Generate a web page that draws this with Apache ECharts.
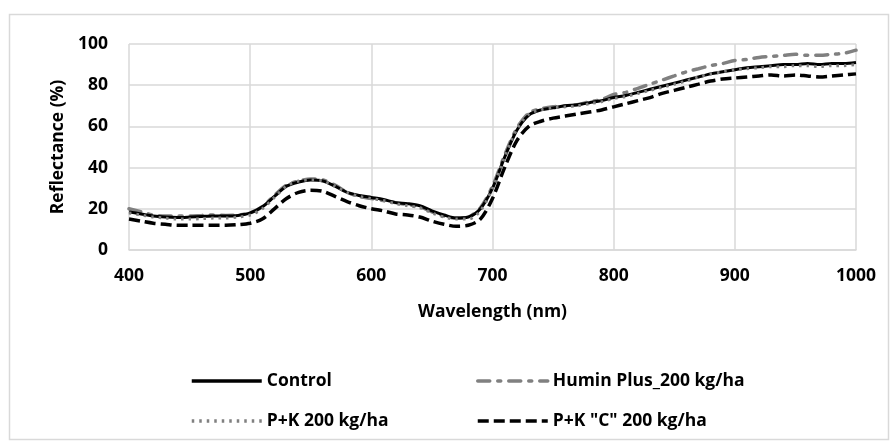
<!DOCTYPE html>
<html>
<head>
<meta charset="utf-8">
<script src="https://cdn.jsdelivr.net/npm/echarts@6/dist/echarts.min.js"></script>
<style>
html,body{margin:0;padding:0;background:#fff;}
#chart{width:893px;height:445px;}
</style>
</head>
<body>
<div id="chart"></div>
<script>
// Wavelength (nm)
const wavelengths = [400,410,420,430,440,450,460,470,480,490,
  500,510,520,530,540,550,560,570,580,590,
  600,610,620,630,640,650,660,670,680,690,
  700,710,720,730,740,750,760,770,780,790,
  800,810,820,830,840,850,860,870,880,890,
  900,910,920,930,940,950,960,970,980,990,1000];

const control = [18.5,17.5,16.5,16,15.8,16,16.3,16.5,16.5,16.8,
  18,21,26,31,33,34,33.5,31,28,26.5,
  25.5,24.5,23,22.5,21.5,19,17,15.5,16,20,
  30,45,58,65.5,68,69,70,70.5,71.5,72.5,
  74,75,76.5,78,79.5,81,82.5,84,85.5,86.5,
  87.5,88.5,89,89.5,90,90,90.5,90,90.5,90.5,91];

const huminPlus = [20,18.5,17,16.5,16.5,16.5,16.8,17,16.8,17,
  18,21,26.5,31.5,33.5,34.5,34,31.5,28,26,
  25,24,23,22,21,18.5,16.5,15.5,16,20.5,
  31,46,59,66.5,68.5,69.5,70,70.5,72,73,
  75.5,76.5,78.5,80.5,82.5,84.5,86.5,88,89.5,90.5,
  92,92.5,93.5,94,94.5,95,94.5,94.5,95,95.5,97];

const pk = [18,17,16,15.5,15,15,15.2,15.5,15.5,16,
  17,20,25.5,31,33.5,34,33.5,31,28,26,
  25,24,22.5,21.5,20.5,18,16,15,15,19,
  30,45,58.5,66,68,69,69.5,70,71,72,
  73.5,74.5,76,77.5,79,80.5,82,84,85.5,86.5,
  87.5,88,88.5,89,89,89.5,89.5,89,89.5,89.5,90];

const pkC = [15,14,13,12.5,12,12,12,12,12,12.3,
  13,15,20,25,28,29,28.5,26,23.5,21.5,
  20,19,17.5,17,16,14,12.5,11.5,12,15,
  25,40,53,60,62.5,64,65,66,67,68,
  69.5,71,72.5,74,76,77.5,79,80.5,82,83,
  83.5,84,84.5,85,84.5,85,84.5,84,84.5,85,85.5];

const seriesNames = ['Control', 'Humin Plus_200 kg/ha', 'P+K 200 kg/ha', 'P+K "C" 200 kg/ha'];
const xTicks = [400, 500, 600, 700, 800, 900, 1000];
const yTicks = [0, 20, 40, 60, 80, 100];

function pairs(vals){ return wavelengths.map((w,i)=>[w, vals[i]]); }

const FONT = '"Open Sans", "DejaVu Sans", sans-serif';
const txt = {fontFamily: FONT, fontWeight: 'bold', fontSize: 17.5, color: '#000'};

const chart = echarts.init(document.getElementById('chart'), null, {renderer: 'canvas'});
chart.setOption({
  animation: false,
  backgroundColor: '#fff',
  graphic: [{
    type: 'rect', silent: true, z: -1,
    shape: {x: 9.5, y: 14.5, width: 879, height: 425},
    style: {fill: 'none', stroke: '#d9d9d9', lineWidth: 1.5}
  }],
  grid: {left: 129, right: 37, top: 44, bottom: 195, containLabel: false},
  xAxis: {
    type: 'value', min: xTicks[0], max: xTicks[xTicks.length-1], interval: 100,
    name: 'Wavelength (nm)', nameLocation: 'middle', nameGap: 53,
    nameTextStyle: Object.assign({}, txt),
    axisLine: {show: true, lineStyle: {color: '#d9d9d9', width: 1.5}},
    axisTick: {show: false},
    axisLabel: Object.assign({margin: 17, formatter: v => String(v)}, txt),
    splitLine: {show: true, lineStyle: {color: '#d9d9d9', width: 1.5}}
  },
  yAxis: {
    type: 'value', min: yTicks[0], max: yTicks[yTicks.length-1], interval: 20,
    name: 'Reflectance (%)', nameLocation: 'middle', nameGap: 51,
    nameTextStyle: Object.assign({}, txt),
    axisLine: {show: false},
    axisTick: {show: false},
    axisLabel: Object.assign({margin: 21, formatter: v => String(v)}, txt),
    splitLine: {show: true, lineStyle: {color: '#d9d9d9', width: 1.5}}
  },
  legend: [{
    data: [seriesNames[0], seriesNames[2]],
    orient: 'vertical', left: 185, top: 367,
    itemWidth: 70, itemHeight: 14, itemGap: 22,
    itemStyle: {opacity: 0},
    lineStyle: {width: 3.5},
    textStyle: Object.assign({}, txt)
  },{
    data: [seriesNames[1], seriesNames[3]],
    orient: 'vertical', left: 471, top: 367,
    itemWidth: 70, itemHeight: 14, itemGap: 22,
    itemStyle: {opacity: 0},
    lineStyle: {width: 3.5},
    textStyle: Object.assign({}, txt)
  }],
  series: [
    {name: seriesNames[0], type: 'line', data: pairs(control), symbol: 'none', smooth: 0.3, z: 4,
     lineStyle: {color: '#000', width: 3, type: 'solid'}, itemStyle: {color: '#000'}},
    {name: seriesNames[1], type: 'line', data: pairs(huminPlus), symbol: 'none', smooth: 0.3, z: 2,
     lineStyle: {color: '#808080', width: 3.5, type: [12, 8, 3, 8], cap: 'round'}, itemStyle: {color: '#808080'}},
    {name: seriesNames[2], type: 'line', data: pairs(pk), symbol: 'none', smooth: 0.3, z: 5,
     lineStyle: {color: '#808080', width: 3, type: [2.5, 5]}, itemStyle: {color: '#808080'}},
    {name: seriesNames[3], type: 'line', data: pairs(pkC), symbol: 'none', smooth: 0.3, z: 3,
     lineStyle: {color: '#000', width: 3.5, type: [11, 5]}, itemStyle: {color: '#000'}}
  ]
});
</script>
</body>
</html>
